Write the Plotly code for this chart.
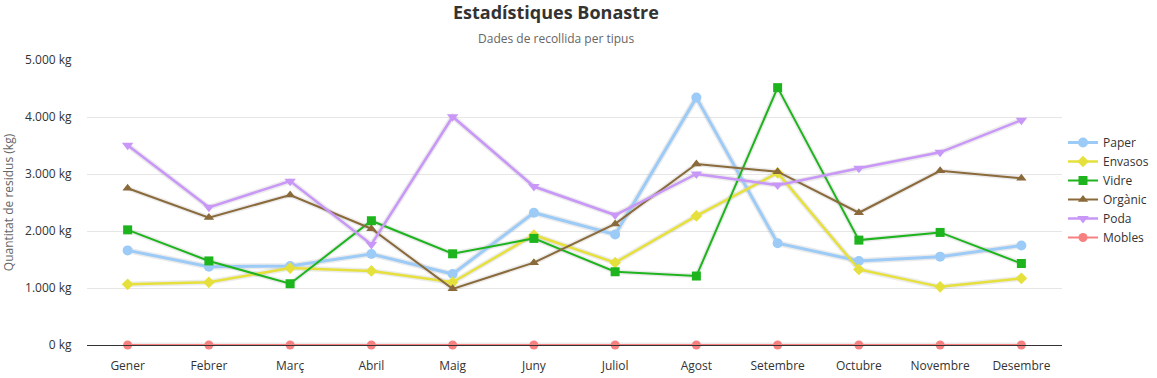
import plotly.graph_objects as go

months = ["Gener", "Febrer", "Març", "Abril", "Maig", "Juny", "Juliol",
          "Agost", "Setembre", "Octubre", "Novembre", "Desembre"]

paper = [1660, 1375, 1385, 1595, 1245, 2320, 1940, 4340, 1785, 1475, 1550, 1745]
envasos = [1065, 1100, 1350, 1300, 1100, 1930, 1445, 2265, 3020, 1325, 1020, 1170]
vidre = [2020, 1475, 1075, 2180, 1600, 1870, 1285, 1210, 4515, 1840, 1975, 1430]
organic = [2750, 2235, 2630, 2040, 985, 1445, 2125, 3175, 3040, 2320, 3055, 2925]
poda = [3505, 2415, 2875, 1765, 4005, 2780, 2280, 3000, 2805, 3100, 3380, 3945]
mobles = [0, 0, 0, 0, 0, 0, 0, 0, 0, 0, 0, 0]

y_ticks = [0, 1000, 2000, 3000, 4000, 5000]
y_tick_text = ["0 kg", "1.000 kg", "2.000 kg", "3.000 kg", "4.000 kg", "5.000 kg"]

series = [
    ("Paper", paper, "#9ccbf7", "circle", 3, 10),
    ("Envasos", envasos, "#e6e03c", "diamond", 2.5, 9),
    ("Vidre", vidre, "#1eb41e", "square", 2, 9),
    ("Orgànic", organic, "#8a6a3a", "triangle-up", 2, 9),
    ("Poda", poda, "#c897f7", "triangle-down", 2.5, 10),
    ("Mobles", mobles, "#f78080", "circle", 2, 9),
]

fig = go.Figure()

# soft shadows
for name, vals, color, sym, w, ms in series:
    fig.add_trace(go.Scatter(
        x=months, y=vals, mode="lines", showlegend=False, hoverinfo="skip",
        line=dict(color="rgba(0,0,0,0.08)", width=w + 3),
    ))

for name, vals, color, sym, w, ms in series:
    fig.add_trace(go.Scatter(
        x=months, y=vals, name=name, mode="lines+markers",
        line=dict(color=color, width=w),
        marker=dict(symbol=sym, size=ms, color=color),
        cliponaxis=False,
    ))

fig.update_layout(
    width=1157, height=378,
    margin=dict(l=87, r=95, t=60, b=33, autoexpand=False),
    paper_bgcolor="white", plot_bgcolor="white",
    font=dict(family="Open Sans, Noto Sans, sans-serif", size=12, color="#333"),
    annotations=[
        dict(text="<b>Estadístiques Bonastre</b>", x=0.5, y=12, xref="paper",
             yref="paper", showarrow=False, font=dict(size=18, color="#333")),
        dict(text="Dades de recollida per tipus", x=0.5, y=1, xref="paper",
             yref="paper", showarrow=False, font=dict(size=12, color="#666")),
    ],
    legend=dict(
        xref="container", yref="container",
        x=1063 / 1157, xanchor="left", y=1 - 190 / 378, yanchor="middle",
        font=dict(size=12, color="#333"), tracegroupgap=0,
        itemwidth=30,
    ),
    showlegend=True,
)

# place title annotations in container pixels
fig.layout.annotations[0].update(yref="paper", y=1 + (60 - 12) / 285, yanchor="middle")
fig.layout.annotations[1].update(yref="paper", y=1 + (60 - 38) / 285, yanchor="middle")
fig.layout.annotations[0].update(x=0.5 + (556 - (87 + 975 / 2)) / 975)
fig.layout.annotations[1].update(x=0.5 + (556 - (87 + 975 / 2)) / 975)

fig.update_xaxes(
    showgrid=False, showline=True, linecolor="#333", linewidth=1,
    ticks="outside", ticklen=10, tickcolor="rgba(0,0,0,0)",
    tickfont=dict(size=12, color="#333"),
    range=[-0.5, 11.5], automargin=False,
)
fig.update_yaxes(
    range=[0, 5000], tickvals=y_ticks, ticktext=y_tick_text,
    showgrid=True, gridcolor="#e6e6e6",
    zeroline=False, showline=False, ticks="outside", ticklen=12, tickcolor="rgba(0,0,0,0)",
    tickfont=dict(size=12, color="#333"), automargin=False,
    title=dict(text="Quantitat de residus (kg)", font=dict(size=12, color="#666"), standoff=8),
)

fig.write_html(
    "out.html",
    config={"displayModeBar": False},
    post_script="document.body.style.margin='0';document.body.style.overflow='hidden';",
)
